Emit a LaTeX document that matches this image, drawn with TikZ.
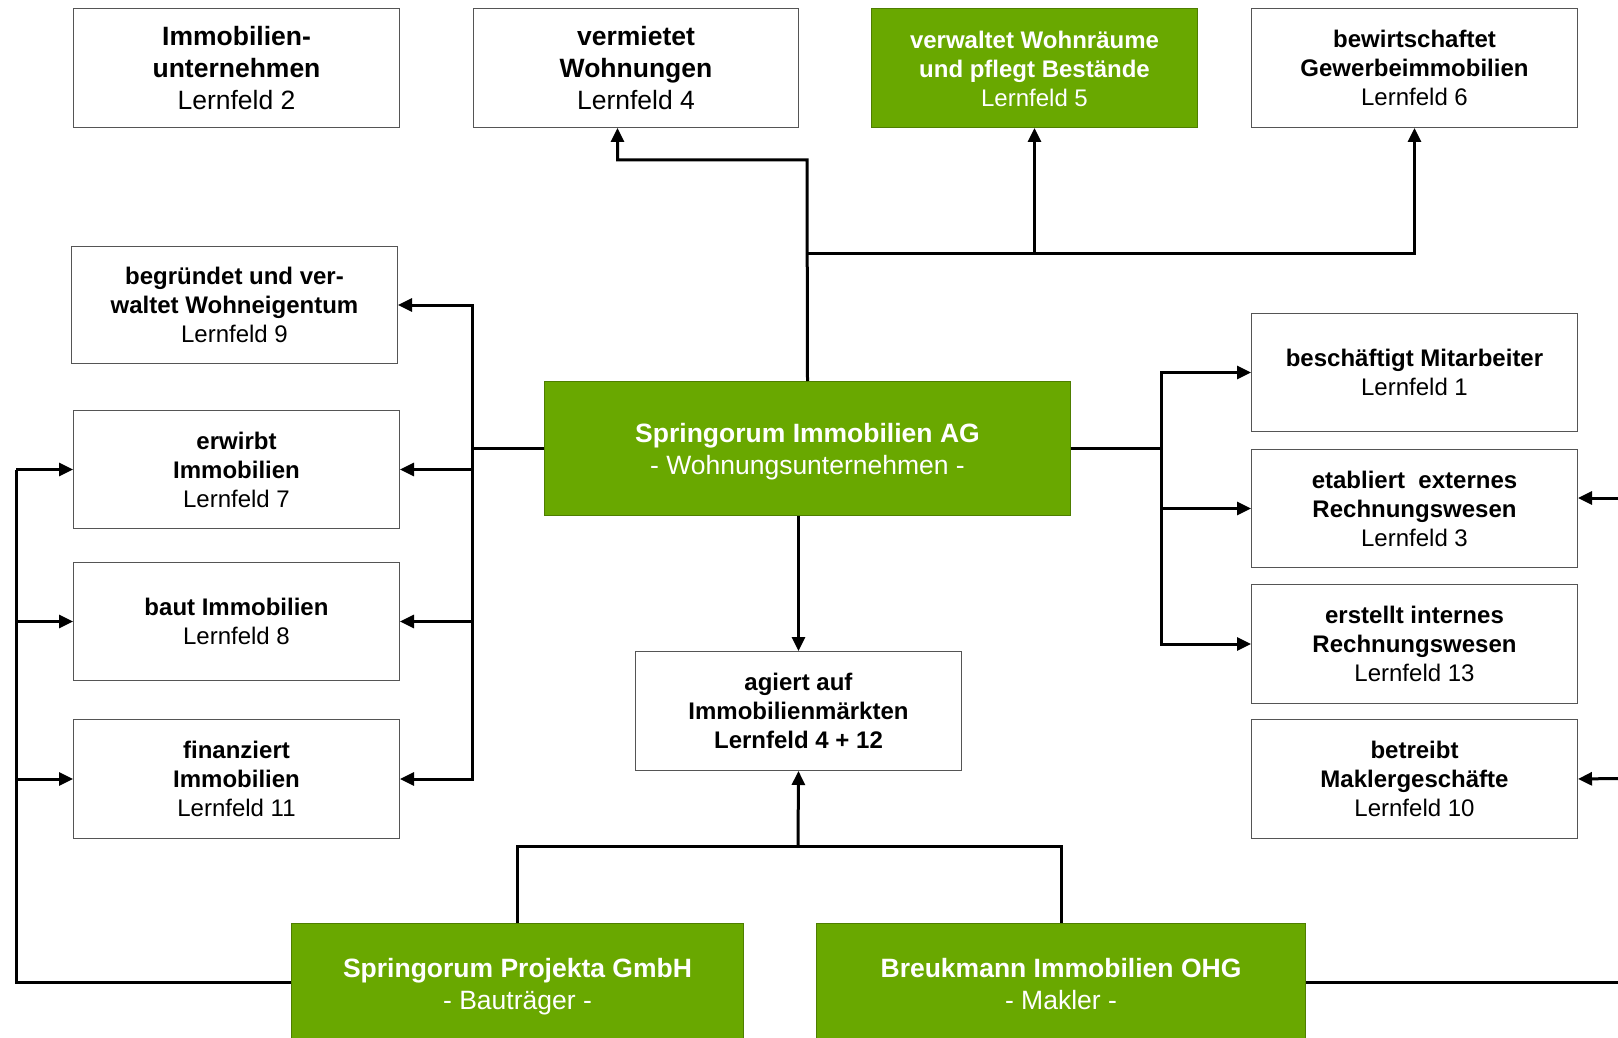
\documentclass[tikz,border=0pt]{standalone}
\usepackage{fontspec}
\setmainfont{Liberation Sans}
\usetikzlibrary{arrows.meta}
\definecolor{grn}{HTML}{69A800}
\definecolor{grnline}{HTML}{4E7E00}
\definecolor{bord}{HTML}{555555}
\tikzset{
  box/.style={draw=bord, line width=1pt, fill=white, align=center, anchor=north west,
    inner sep=0pt, font=\fontsize{24}{29}\selectfont},
  bigbox/.style={box, font=\fontsize{26.5}{32}\selectfont},
  gbox/.style={fill=grn, draw=grnline, text=white},
  conn/.style={line width=3pt},
  arr/.style={conn, -{Triangle[length=14pt,width=13pt]}},
}
\begin{document}
\begin{tikzpicture}[x=1pt,y=-1pt]
\useasboundingbox[fill=white] (0,0) rectangle (1618,1038);

% top row
\node[bigbox, minimum width=326pt, minimum height=119pt] (A) at (73,8)
  {\textbf{Immobilien-}\\\textbf{unternehmen}\\Lernfeld 2};
\node[bigbox, minimum width=325pt, minimum height=119pt] (B) at (473,8)
  {\textbf{vermietet}\\\textbf{Wohnungen}\\Lernfeld 4};
\node[box, gbox, minimum width=326pt, minimum height=119pt] (C) at (871,8)
  {\rule{0pt}{20pt}\textbf{verwaltet Wohnräume}\\\textbf{und pflegt Bestände}\\Lernfeld 5};
\node[box, minimum width=326pt, minimum height=119pt] (D) at (1251,8)
  {\textbf{bewirtschaftet}\\\textbf{Gewerbeimmobilien}\\Lernfeld 6};

% left column
\node[box, minimum width=326pt, minimum height=117pt] (E) at (71,246)
  {\textbf{begründet und ver-}\\\textbf{waltet Wohneigentum}\\Lernfeld 9};
\node[box, minimum width=326pt, minimum height=118pt] (F) at (73,410)
  {\textbf{erwirbt}\\\textbf{Immobilien}\\Lernfeld 7};
\node[box, minimum width=326pt, minimum height=118pt] (G) at (73,562)
  {\textbf{baut Immobilien}\\Lernfeld 8};
\node[box, minimum width=326pt, minimum height=119pt] (H) at (73,719)
  {\textbf{finanziert}\\\textbf{Immobilien}\\Lernfeld 11};

% center
\node[bigbox, gbox, minimum width=526pt, minimum height=134pt] (AG) at (544,381)
  {\rule{0pt}{26pt}\textbf{Springorum Immobilien AG}\\- Wohnungsunternehmen -};
\node[box, minimum width=326pt, minimum height=119pt] (M) at (635,651)
  {\textbf{agiert auf}\\\textbf{Immobilienmärkten}\\\textbf{Lernfeld 4 + 12}};

% right column
\node[box, minimum width=326pt, minimum height=118pt] (R1) at (1251,313)
  {\textbf{beschäftigt Mitarbeiter}\\Lernfeld 1};
\node[box, minimum width=326pt, minimum height=118pt] (R2) at (1251,449)
  {\textbf{etabliert\ \ externes}\\\textbf{Rechnungswesen}\\Lernfeld 3};
\node[box, minimum width=326pt, minimum height=119pt] (R3) at (1251,584)
  {\textbf{erstellt internes}\\\textbf{Rechnungswesen}\\Lernfeld 13};
\node[box, minimum width=326pt, minimum height=119pt] (R4) at (1251,719)
  {\textbf{betreibt}\\\textbf{Maklergeschäfte}\\Lernfeld 10};

% bottom
\node[bigbox, gbox, minimum width=452pt, minimum height=126pt] (P) at (291,923)
  {\textbf{Springorum Projekta GmbH}\\- Bauträger -};
\node[bigbox, gbox, minimum width=489pt, minimum height=122pt] (BR) at (816,923)
  {\textbf{Breukmann Immobilien OHG}\\- Makler -};

% junction coordinates
\coordinate (jT1) at (807,160);
\coordinate (jT2) at (807,253);
\coordinate (jL) at (472,448);
\coordinate (jR) at (1161,448);
\coordinate (jB) at (798,846);
\coordinate (jLL) at (16,982);
\coordinate (edgeA) at (1618,982);
\coordinate (edgeB) at (1618,498);
\coordinate (edgeC) at (1618,778.5);

% top connectors
\draw[arr] (AG.north) -- (jT1) -| ([xshift=-18.5pt]B.south);
\draw[arr] (jT2) -| (D.south);
\draw[arr] (jT2 -| C.south) -- (C.south);

% left connectors
\draw[conn] (AG.west |- jL) -- (jL);
\draw[arr] (jL) |- (E.east);
\draw[arr] (jL) |- (H.east);
\draw[arr] (jL |- F.east) -- (F.east);
\draw[arr] (jL |- G.east) -- (G.east);

% right connectors
\draw[conn] (AG.east |- jR) -- (jR);
\draw[arr] (jR) |- (R1.west);
\draw[arr] (jR) |- (R3.west);
\draw[arr] (jR |- R2.west) -- (R2.west);

% center to market
\draw[arr] (M.north |- AG.south) -- (M.north);

% bottom connectors
\draw[conn] (P.north) |- (jB) -| (BR.north);
\draw[arr] (jB) -- (M.south);

% left loop
\draw[conn] (P.west |- jLL) -- (jLL) -- (jLL |- F.west);
\draw[arr] (jLL |- F.west) -- (F.west);
\draw[arr] (jLL |- G.west) -- (G.west);
\draw[arr] (jLL |- H.west) -- (H.west);

% right edge
\draw[conn] (BR.east |- edgeA) -- (edgeA);
\draw[arr] (edgeB) -- (edgeB -| R2.east);
\draw[arr] (edgeC) -- (R4.east);
\end{tikzpicture}
\end{document}
